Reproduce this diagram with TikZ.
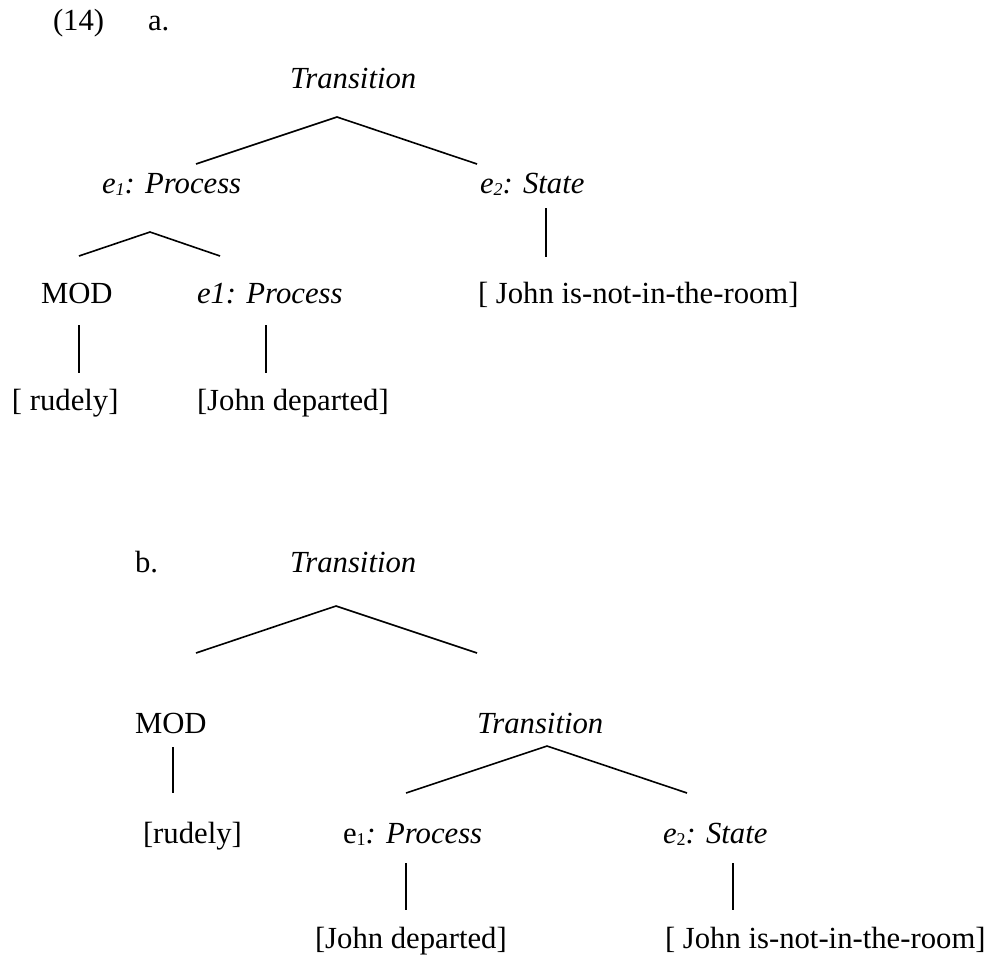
\documentclass[tikz,border=0pt]{standalone}
\usepackage{fontspec}
\setmainfont{Liberation Serif}
\newcommand\evsub[1]{\raisebox{-2pt}{\fontsize{18}{18}\selectfont #1}}
\begin{document}
\begin{tikzpicture}[x=1pt,y=-1pt,
  lbl/.style={inner sep=0pt, outer sep=0pt, anchor=base west, font=\fontsize{30.7}{36}\selectfont},
  branch/.style={line width=1.6pt, line cap=butt}]
\useasboundingbox (0,0) rectangle (990,956);

% ---------- (14a) ----------
\node[lbl] (num) at (53,30) {(14)};
\node[lbl] (la) at (148,30) {a.};
\node[lbl] (aT) at (290,88) {\textit{Transition}};
\node[lbl] (aP) at (102,193) {\textit{e\evsub{1}: Process}};
\node[lbl] (aS) at (480,193) {\textit{e\evsub{2}: State}};
\node[lbl] (aM) at (41,303) {MOD};
\node[lbl] (aP2) at (197,303) {\textit{e1: Process}};
\node[lbl] (aJ) at (478,303) {[ John is-not-in-the-room]};
\node[lbl] (aR) at (12,410) {[ rudely]};
\node[lbl] (aD) at (197,410) {[John departed]};

\coordinate (aTop) at (337,117);
\coordinate (aTL) at (196,164);
\coordinate (aTR) at (477,164);
\coordinate (aPtop) at (150,232);
\coordinate (aPL) at (79,256);
\coordinate (aPR) at (220,256);
\coordinate (aM1) at (79,325);
\coordinate (aM2) at (79,373);
\coordinate (aQ1) at (266,325);
\coordinate (aQ2) at (266,373);
\coordinate (aS1) at (546,208);
\coordinate (aS2) at (546,257);

\draw[branch] (aTL) -- (aTop) -- (aTR);
\draw[branch] (aPL) -- (aPtop) -- (aPR);
\draw[branch] (aM1) -- (aM2);
\draw[branch] (aQ1) -- (aQ2);
\draw[branch] (aS1) -- (aS2);

% ---------- (14b) ----------
\node[lbl] (lb) at (135,572) {b.};
\node[lbl] (bT) at (290,572) {\textit{Transition}};
\node[lbl] (bM) at (135,733) {MOD};
\node[lbl] (bT2) at (477,733) {\textit{Transition}};
\node[lbl] (bR) at (143,843) {[rudely]};
\node[lbl] (bP) at (343,843) {e\evsub{1}\textit{: Process}};
\node[lbl] (bS) at (663,843) {\textit{e}\evsub{2}\textit{: State}};
\node[lbl] (bD) at (315,948) {[John departed]};
\node[lbl] (bJ) at (665,948) {[ John is-not-in-the-room]};

\coordinate (bTop) at (336,606);
\coordinate (bTL) at (196,653);
\coordinate (bTR) at (477,653);
\coordinate (bM1) at (173,747);
\coordinate (bM2) at (173,793);
\coordinate (bT2top) at (547,746);
\coordinate (bT2L) at (406,793);
\coordinate (bT2R) at (687,793);
\coordinate (bP1) at (406,863);
\coordinate (bP2) at (406,910);
\coordinate (bS1) at (733,863);
\coordinate (bS2) at (733,910);

\draw[branch] (bTL) -- (bTop) -- (bTR);
\draw[branch] (bM1) -- (bM2);
\draw[branch] (bT2L) -- (bT2top) -- (bT2R);
\draw[branch] (bP1) -- (bP2);
\draw[branch] (bS1) -- (bS2);
\end{tikzpicture}
\end{document}
